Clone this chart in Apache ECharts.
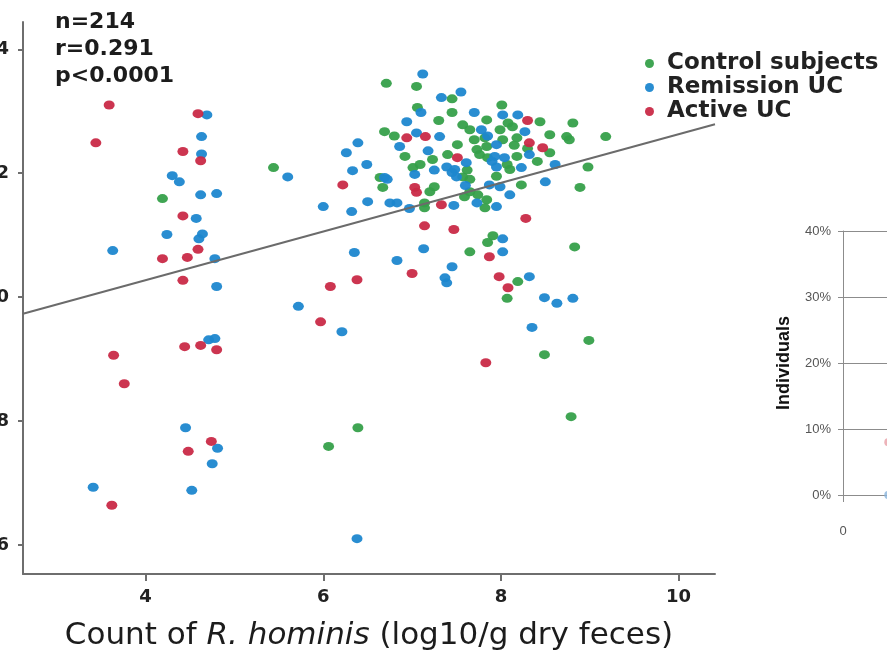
<!DOCTYPE html>
<html>
<head>
<meta charset="utf-8">
<script src="https://cdn.jsdelivr.net/npm/echarts@6/dist/echarts.min.js"></script>
<style>
  html, body { margin: 0; padding: 0; background: #fff; }
  #chart { width: 887px; height: 653px; }
</style>
</head>
<body>
<div id="chart"></div>
<script>
// scatter values: [count of R. hominis, y value]
const controlPts = [
  [4.19, 11.59], [5.44, 12.09], [6.71, 13.45], [7.05, 13.40], [7.45, 13.20], [8.01, 13.10],
  [7.06, 13.06], [7.45, 12.98], [7.84, 12.86], [8.44, 12.83], [8.81, 12.81], [7.57, 12.78],
  [7.65, 12.70], [8.08, 12.81], [8.13, 12.75], [6.69, 12.67], [6.80, 12.60], [8.55, 12.62],
  [8.74, 12.59], [8.77, 12.54], [9.18, 12.59], [7.70, 12.54], [7.82, 12.57], [8.02, 12.54],
  [8.18, 12.57], [7.73, 12.38], [7.84, 12.43], [8.55, 12.33], [6.92, 12.27], [7.76, 12.30],
  [7.85, 12.25], [8.07, 12.14], [8.10, 12.06], [8.18, 12.27], [8.41, 12.19], [8.98, 12.10],
  [7.09, 12.14], [7.01, 12.09], [7.57, 11.94], [7.65, 11.90], [8.23, 11.81], [8.89, 11.77],
  [6.67, 11.77], [7.25, 11.78], [7.20, 11.70], [6.64, 11.93], [7.65, 11.70], [7.74, 11.65],
  [7.14, 11.52], [7.14, 11.44], [7.59, 11.62], [7.82, 11.44], [7.84, 11.57], [7.91, 10.99],
  [7.85, 10.88], [7.65, 10.73], [8.83, 10.81], [8.19, 10.25], [8.07, 9.98], [8.99, 9.30],
  [8.49, 9.07], [6.39, 7.89], [6.06, 7.59], [8.79, 8.07], [7.99, 12.70], [7.51, 12.46],
  [7.23, 12.22], [8.30, 12.40], [7.40, 12.30], [7.62, 12.05], [7.95, 11.95], [8.15, 12.45],
  [7.30, 12.85]
];
const remissionPts = [
  [4.69, 12.94], [4.63, 12.59], [4.63, 12.31], [4.30, 11.96], [4.38, 11.86], [4.62, 11.65],
  [4.80, 11.67], [4.57, 11.27], [4.24, 11.01], [4.64, 11.02], [4.60, 10.94], [3.63, 10.75],
  [4.78, 10.62], [4.80, 10.17], [4.71, 9.31], [4.78, 9.33], [4.45, 7.89], [4.81, 7.56],
  [4.75, 7.31], [3.41, 6.93], [4.52, 6.88],
  [5.60, 11.94], [6.00, 11.46], [5.72, 9.85], [6.21, 9.44], [6.38, 6.10], [6.32, 11.38],
  [6.35, 10.72], [6.26, 12.33], [6.39, 12.49], [6.49, 12.14], [6.33, 12.04], [6.50, 11.54],
  [7.12, 13.60], [7.55, 13.31], [7.33, 13.22], [7.10, 12.98], [7.70, 12.98], [8.02, 12.94],
  [8.19, 12.94], [6.94, 12.83], [7.05, 12.65], [7.31, 12.59], [7.78, 12.70], [8.27, 12.67],
  [7.95, 12.46], [6.86, 12.43], [7.18, 12.36], [8.32, 12.30], [7.61, 12.17], [7.93, 12.27],
  [7.90, 12.19], [7.95, 12.10], [8.04, 12.25], [8.23, 12.09], [8.61, 12.14], [7.39, 12.10],
  [7.48, 12.06], [7.45, 12.01], [7.03, 11.98], [7.87, 11.81], [7.99, 11.78], [6.69, 11.93],
  [6.72, 11.90], [7.50, 11.94], [8.50, 11.86], [6.75, 11.52], [6.83, 11.52], [6.97, 11.43],
  [7.47, 11.48], [7.73, 11.52], [7.95, 11.46], [8.02, 10.94], [8.02, 10.73], [7.13, 10.78],
  [6.83, 10.59], [7.45, 10.49], [7.37, 10.31], [7.39, 10.23], [8.32, 10.33], [8.49, 9.99],
  [8.63, 9.90], [8.81, 9.98], [8.35, 9.51], [7.60, 11.80], [7.85, 12.60], [7.25, 12.05],
  [8.10, 11.65]
];
const activePts = [
  [3.44, 12.49], [3.59, 13.10], [4.59, 12.96], [4.42, 12.35], [4.62, 12.20], [4.42, 11.31],
  [4.59, 10.77], [4.19, 10.62], [4.47, 10.64], [4.42, 10.27], [4.44, 9.20], [4.62, 9.22],
  [4.80, 9.15], [3.64, 9.06], [3.76, 8.60], [4.74, 7.67], [4.48, 7.51], [3.62, 6.64],
  [6.08, 10.17], [6.38, 10.28], [5.97, 9.60], [6.22, 11.81], [6.94, 12.57], [7.15, 12.59],
  [7.51, 12.25], [7.03, 11.77], [7.05, 11.69], [7.33, 11.49], [7.14, 11.15], [7.47, 11.09],
  [8.28, 11.27], [7.00, 10.38], [7.98, 10.33], [7.87, 10.65], [8.08, 10.15], [7.83, 8.94],
  [8.30, 12.85], [8.32, 12.49], [8.47, 12.41]
];
// fitted line end points
const fitLine = [[2.62, 9.73], [10.41, 12.79]];

const statLines = ['n=214', 'r=0.291', 'p<0.0001'];
const seriesNames = ['Control subjects', 'Remission UC', 'Active UC'];
const seriesColors = ['#36a04a', '#1e87cf', '#c92a47'];

const xTicks = [4, 6, 8, 10];
const yTicks = [6, 8, 10, 12, 14];

// second (cropped) panel on the right
const pctTicks = [0, 0.1, 0.2, 0.3, 0.4];
const rightXTicks = [0];
const rightPts = [[1.02, 0.08], [1.02, 0.0]];
const rightColors = ['#e8a0a8', '#8ab4dc'];

const chart = echarts.init(document.getElementById('chart'));

const axisGray = '#6e6e6e';
const panelGray = '#8c8c8c';
const wide = 'DejaVu Sans, Verdana, sans-serif';
const plain = 'Liberation Sans, Arial, sans-serif';

function scatter(name, data, color) {
  return {
    name,
    type: 'scatter',
    xAxisIndex: 0,
    yAxisIndex: 0,
    data,
    symbol: 'circle',
    symbolSize: [11, 9],
    itemStyle: { color, opacity: 0.95 },
    z: 2,
  };
}

chart.setOption({
  animation: false,
  textStyle: { fontFamily: plain },
  title: {
    text: statLines.join('\n'),
    left: 50,
    top: 4,
    textStyle: { fontSize: 22, fontWeight: 'bold', color: '#1c1c1c', lineHeight: 27, fontFamily: wide },
  },
  legend: {
    data: seriesNames,
    orient: 'vertical',
    left: 640,
    top: 47,
    itemGap: 1,
    itemWidth: 9,
    itemHeight: 9,
    icon: 'circle',
    textStyle: {
      fontSize: 23, fontWeight: 'bold', color: '#222', fontFamily: wide,
      lineHeight: 23, padding: [0, 0, 0, 8],
    },
  },
  grid: [
    { left: 23, right: 172, top: 22, bottom: 79, outerBoundsMode: 'none', containLabel: false },
    { left: 843, right: -400, top: 231, bottom: 158, outerBoundsMode: 'none', containLabel: false },
  ],
  xAxis: [
    {
      gridIndex: 0,
      type: 'value',
      min: 2.62,
      max: 10.41,
      axisLine: { lineStyle: { color: axisGray, width: 2 } },
      axisTick: { customValues: xTicks, length: 7, lineStyle: { color: axisGray, width: 2 } },
      axisLabel: { customValues: xTicks, fontSize: 18, fontWeight: 'bold', color: '#222', margin: 14, fontFamily: wide },
      splitLine: { show: false },
      name: '{a|Count of }{b|R. hominis}{a| (log10/g dry feces)}',
      nameLocation: 'middle',
      nameGap: 46,
      nameTextStyle: {
        rich: {
          a: { fontSize: 31, color: '#1c1c1c', fontFamily: wide },
          b: { fontSize: 31, color: '#1c1c1c', fontStyle: 'italic', fontFamily: wide },
        },
      },
    },
    {
      gridIndex: 1,
      type: 'value',
      min: 0,
      max: 10,
      axisLine: { lineStyle: { color: panelGray, width: 1 } },
      axisTick: { customValues: rightXTicks, length: 7, lineStyle: { color: panelGray } },
      axisLabel: { customValues: rightXTicks, fontSize: 13, color: '#555', margin: 30 },
      splitLine: { show: false },
    },
  ],
  yAxis: [
    {
      gridIndex: 0,
      type: 'value',
      min: 5.53,
      max: 14.44,
      axisLine: { lineStyle: { color: axisGray, width: 2 } },
      axisTick: { customValues: yTicks, length: 5, lineStyle: { color: axisGray, width: 2 } },
      axisLabel: { customValues: yTicks, fontSize: 18, fontWeight: 'bold', color: '#222', margin: 14, fontFamily: wide },
      splitLine: { show: false },
    },
    {
      gridIndex: 1,
      type: 'value',
      min: 0,
      max: 0.4,
      interval: 0.1,
      axisLine: { show: true, lineStyle: { color: panelGray, width: 1 } },
      axisTick: { show: true, length: 5, lineStyle: { color: panelGray } },
      axisLabel: {
        fontSize: 13,
        color: '#555',
        margin: 12,
        formatter: v => Math.round(v * 100) + '%',
      },
      splitLine: { show: true, lineStyle: { color: panelGray, width: 1 } },
      name: 'Individuals',
      nameLocation: 'middle',
      nameRotate: 90,
      nameGap: 50,
      nameTextStyle: { fontSize: 18, fontWeight: 'bold', color: '#111', fontFamily: plain },
    },
  ],
  series: [
    scatter(seriesNames[0], controlPts, seriesColors[0]),
    scatter(seriesNames[1], remissionPts, seriesColors[1]),
    scatter(seriesNames[2], activePts, seriesColors[2]),
    {
      name: 'fit',
      type: 'line',
      xAxisIndex: 0,
      yAxisIndex: 0,
      data: fitLine,
      showSymbol: false,
      lineStyle: { color: '#6b6b6b', width: 2 },
      z: 5,
    },
    {
      name: 'right',
      type: 'scatter',
      xAxisIndex: 1,
      yAxisIndex: 1,
      data: rightPts.map((p, i) => ({ value: p, itemStyle: { color: rightColors[i] } })),
      symbolSize: 8,
    },
  ],
});
</script>
</body>
</html>
